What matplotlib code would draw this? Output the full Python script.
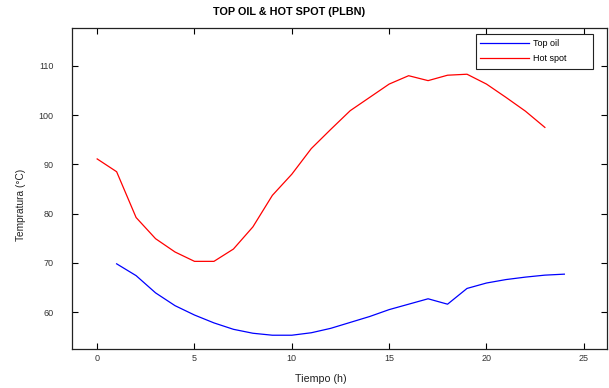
import matplotlib
matplotlib.use("Agg")
import matplotlib.pyplot as plt
from matplotlib.patches import Rectangle

plt.rcParams['font.family'] = ['Liberation Sans', 'DejaVu Sans']

# Hourly temperatures (°C)
hours_hot = list(range(0, 24))
hot_spot = [91.1, 88.5, 79.2, 74.9, 72.2, 70.3, 70.3, 72.8, 77.3, 83.7,
            88.0, 93.2, 97.1, 100.9, 103.6, 106.3, 108.0, 107.0, 108.1, 108.3,
            106.3, 103.6, 100.8, 97.5]

hours_oil = list(range(1, 25))
top_oil = [69.8, 67.4, 63.9, 61.3, 59.4, 57.8, 56.5, 55.7, 55.3, 55.3,
           55.8, 56.7, 57.9, 59.1, 60.5, 61.6, 62.7, 61.6, 64.8, 65.9,
           66.6, 67.1, 67.5, 67.7]

x_ticks = [0, 5, 10, 15, 20, 25]
y_ticks = [60, 70, 80, 90, 100, 110]

fig = plt.figure(figsize=(6.09, 3.88), dpi=100)
ax = fig.add_axes([0.118, 0.1005, 0.879, 0.8275])

ax.plot(hours_oil, top_oil, color='#0000ff', lw=0.9, label='Top oil')
ax.plot(hours_hot, hot_spot, color='#ff0000', lw=0.9, label='Hot spot')

ax.set_xlim(-1.3, 26.2)
ax.set_ylim(52.5, 117.7)
ax.set_xticks(x_ticks)
ax.set_yticks(y_ticks)
ax.tick_params(direction='in', length=4, width=0.8, top=True, right=True,
               labelsize=6.5, labelcolor='#333333')
ax.tick_params(axis='x', pad=3.5)
ax.tick_params(axis='y', pad=13)
for s in ax.spines.values():
    s.set_linewidth(0.9)
    s.set_color('#222222')

fig.text(0.4745, 0.968, 'TOP OIL & HOT SPOT (PLBN)', fontsize=7.8,
         fontweight='bold', ha='center', va='center')
ax.set_xlabel('Tiempo (h)', fontsize=7.7, labelpad=8, color='#222222', x=0.465)
ax.set_ylabel('Tempratura (°C)', fontsize=7.3, labelpad=9, color='#222222', y=0.449)

# legend entries without their own frame, boxed separately
leg = ax.legend(loc='upper left', bbox_to_anchor=(0.763, 0.966), fontsize=6.5,
                frameon=False, handlelength=5.4, borderpad=0.0,
                borderaxespad=0.0, labelspacing=0.65, handletextpad=0.45)
ax.add_patch(Rectangle((0.755, 0.872), 0.219, 0.109, transform=ax.transAxes,
                       fill=False, edgecolor='#222222', lw=0.8, zorder=5))

fig.savefig('out.png', dpi=100)
